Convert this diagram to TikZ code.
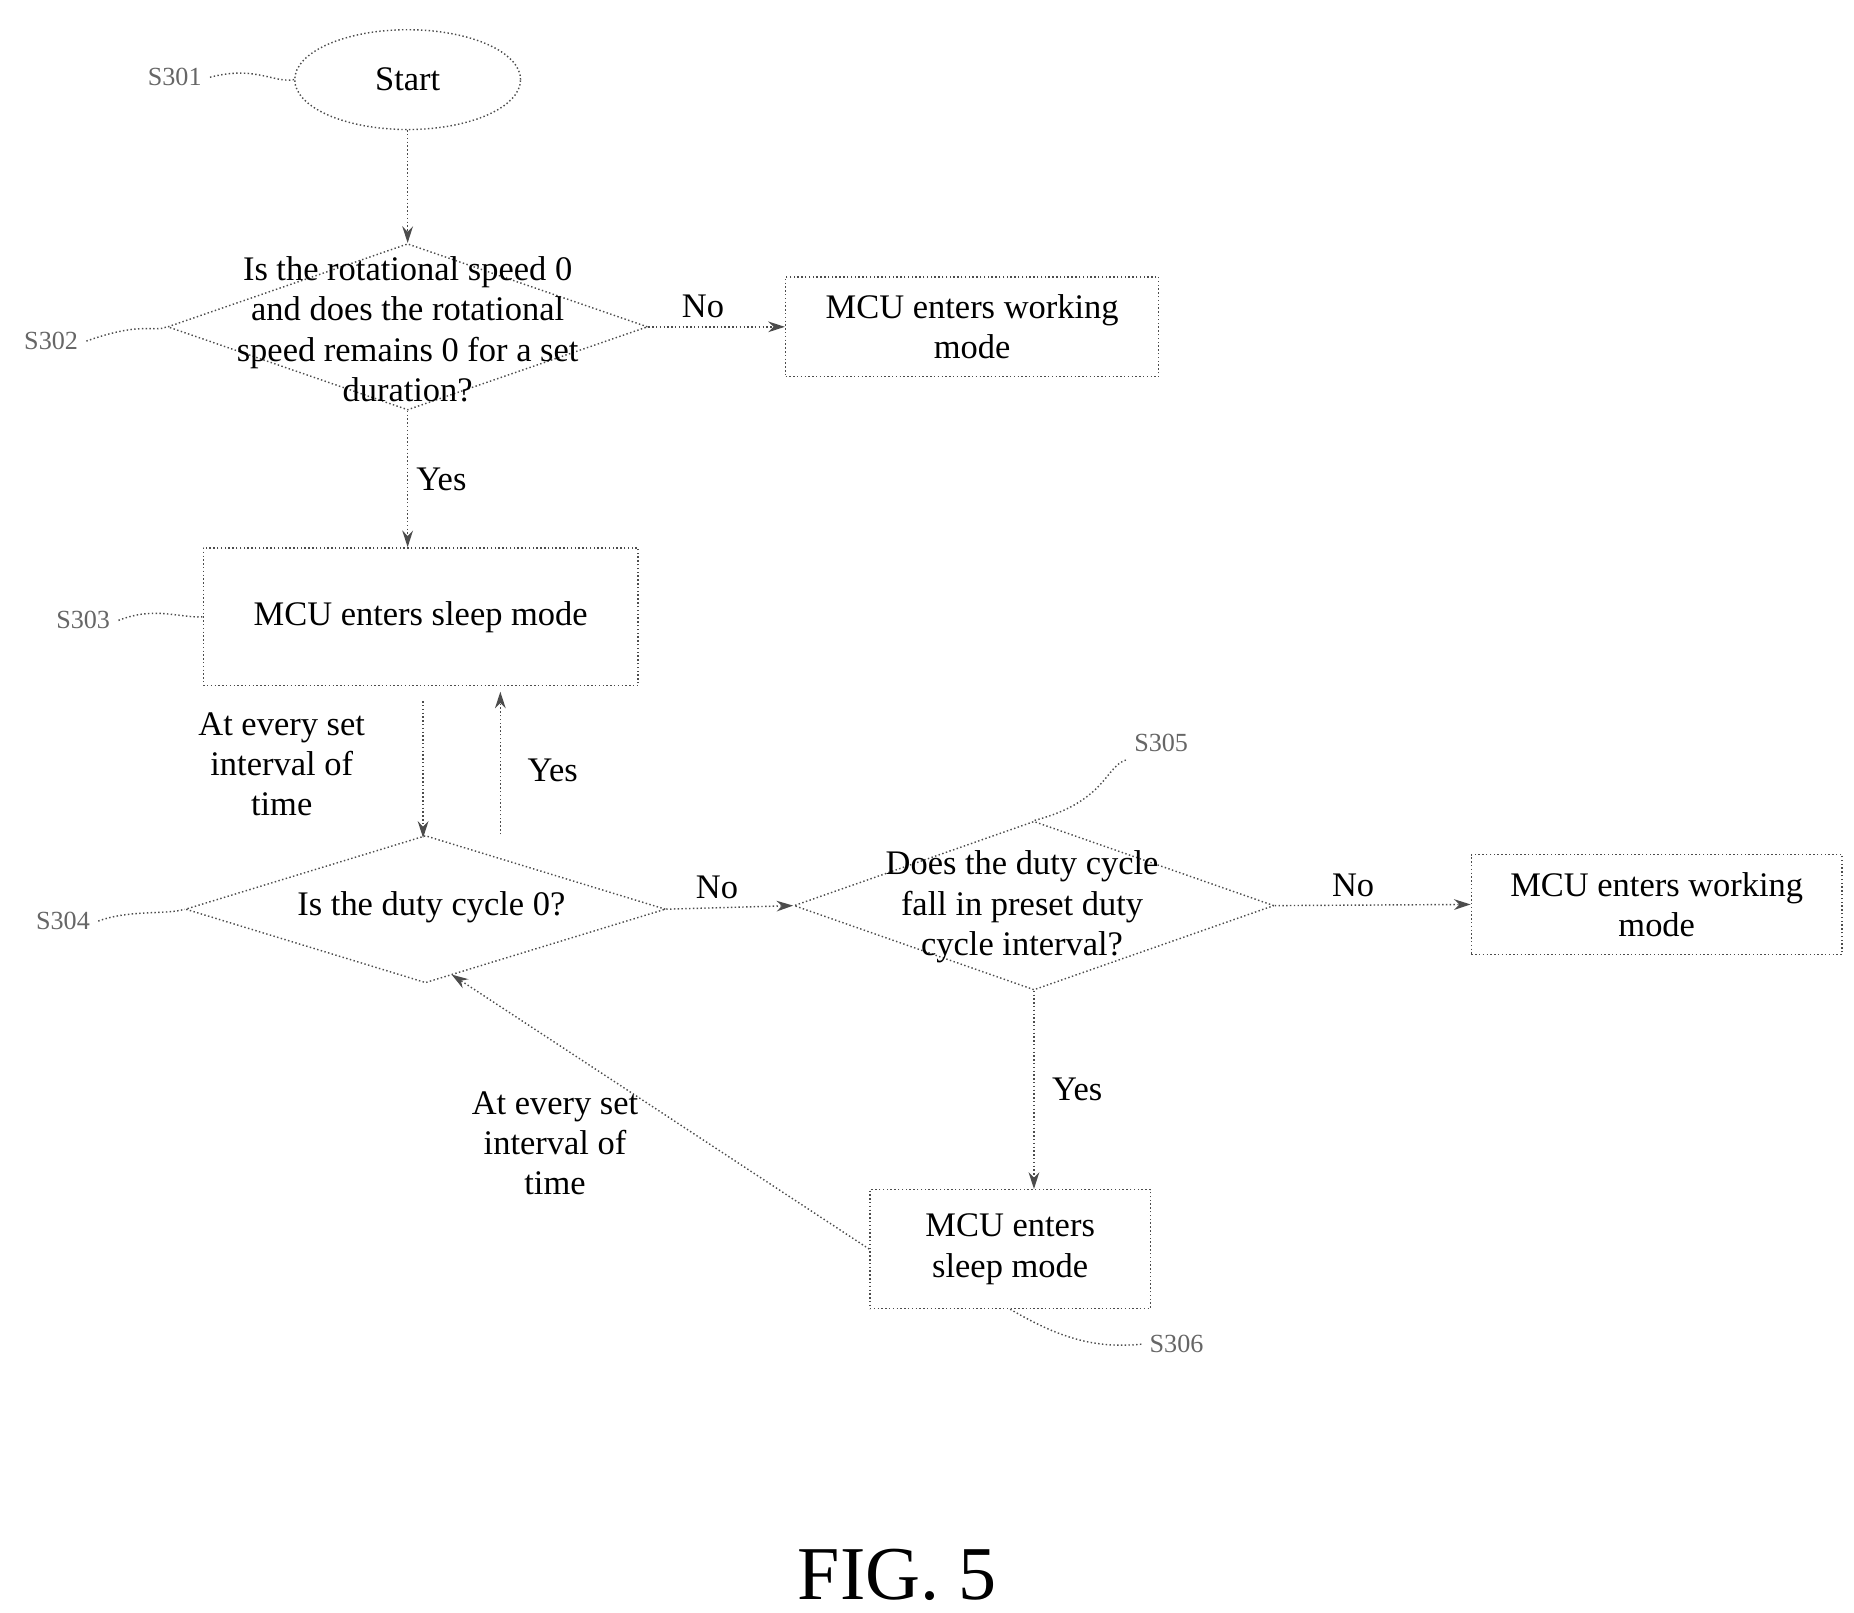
\documentclass[tikz,border=0pt]{standalone}
\usepackage{fontspec}
\setmainfont{Liberation Serif}
\usetikzlibrary{shapes.geometric,arrows.meta}
\begin{document}
\begin{tikzpicture}[x=0.5pt,y=-0.5pt,
  ln/.style={draw=black!70,densely dotted,line width=0.6pt},
  arr/.style={ln,-{Stealth[length=7pt,width=4.5pt]}},
  box/.style={ln,rectangle,inner sep=0pt,align=center,font=\fontsize{14.5}{17}\selectfont},
  txt/.style={align=center,font=\fontsize{14.5}{17}\selectfont},
  lab/.style={font=\fontsize{11}{12}\selectfont,text=black!60}]
\useasboundingbox (0,0) rectangle (1560,1357);
\node[ln,ellipse,minimum width=95pt,minimum height=42pt,font=\fontsize{14.5}{17}\selectfont] (start) at (343,67) {Start};
\node[ln,diamond,aspect=2.9,minimum width=202pt,minimum height=70pt,inner sep=0pt] (d1) at (343,275) {};
\node[txt] at (343,277) {Is the rotational speed 0\\and does the rotational\\speed remains 0 for a set\\duration?};
\node[box,minimum width=157pt,minimum height=42pt] (w1) at (818,275) {MCU enters working\\mode};
\node[box,minimum width=183pt,minimum height=58pt] (s1) at (354,519) {MCU enters sleep mode};
\node[ln,diamond,aspect=3.24,minimum width=202pt,minimum height=62pt,inner sep=0pt] (d2) at (358,765) {};
\node[txt] at (363,763) {Is the duty cycle 0?};
\node[ln,diamond,aspect=2.8,minimum width=202pt,minimum height=71pt,inner sep=0pt] (d3) at (870,762) {};
\node[txt] at (860,763) {Does the duty cycle\\fall in preset duty\\cycle interval?};
\node[box,minimum width=156pt,minimum height=42pt] (w2) at (1394,761) {MCU enters working\\mode};
\node[box,minimum width=118pt,minimum height=50pt] (s2) at (850,1051) {MCU enters\\sleep mode};
\draw[arr] (start.south) -- (d1.north);
\draw[arr] (d1.east) -- (w1.west) node[txt,pos=0.4,above] {No};
\draw[arr] (d1.south) -- (s1.north -| d1.south) node[txt,midway,right] {Yes};
\draw[arr] (356,590) -- (356,705);
\node[txt] at (237,643) {At every set\\interval of\\time};
\draw[arr] (421,702) -- (421,582);
\node[txt] at (465,648) {Yes};
\draw[arr] (d2.east) -- (d3.west) node[txt,pos=0.4,above] {No};
\draw[arr] (d3.east) -- (w2.west) node[txt,pos=0.4,above] {No};
\draw[arr] (d3.south) -- (s2.north -| d3.south) node[txt,midway,right=4pt] {Yes};
\draw[arr] (s2.west) -- (380,820);
\node[txt] at (467,962) {At every set\\interval of\\time};
\node[lab] (l1) at (147,65) {S301};
\draw[ln] (l1.east) .. controls (215,55) and (230,70) .. (start.west);
\node[lab] (l2) at (43,287) {S302};
\draw[ln] (l2.east) .. controls (120,270) and (130,280) .. (d1.west);
\node[lab] (l3) at (70,522) {S303};
\draw[ln] (l3.east) .. controls (130,510) and (150,520) .. (s1.west);
\node[lab] (l4) at (53,775) {S304};
\draw[ln] (l4.east) .. controls (110,765) and (140,770) .. (d2.west);
\node[lab] (l5) at (977,625) {S305};
\draw[ln] (l5.south west) .. controls (930,645) and (930,675) .. (d3.north);
\node[lab] (l6) at (990,1131) {S306};
\draw[ln] (s2.south) .. controls (890,1125) and (920,1135) .. (l6.west);
\node[font=\fontsize{32}{36}\selectfont] at (755,1325) {FIG. 5};
\end{tikzpicture}
\end{document}
